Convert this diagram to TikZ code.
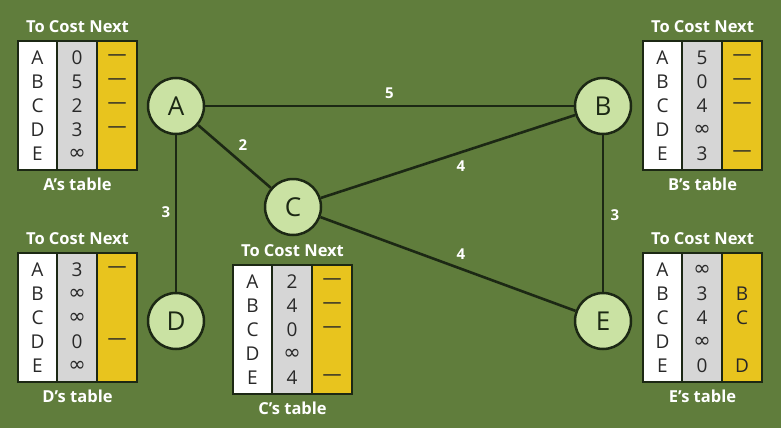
\documentclass[tikz,border=0pt]{standalone}
\usepackage{fontspec}
\setmainfont{Open Sans}
\newfontfamily\symfont{DejaVu Sans}
\newcommand\inft{{\symfont\fontsize{21}{21}\selectfont ∞}}
\definecolor{bg}{RGB}{96,125,60}
\definecolor{nodefill}{RGB}{202,226,163}
\definecolor{ink}{RGB}{28,40,20}
\definecolor{costgray}{RGB}{214,214,214}
\definecolor{nextyel}{RGB}{232,196,30}
\definecolor{celltext}{RGB}{40,40,40}
\tikzset{
  router/.style={circle, draw=ink, line width=2.5pt, fill=nodefill, minimum size=56pt, inner sep=0pt, text=ink, font=\fontsize{26}{26}\selectfont},
  link/.style={draw=ink, line width=2.6pt},
  elab/.style={text=white, font=\bfseries\fontsize{15}{15}\selectfont, inner sep=0pt},
  hdr/.style={text=white, font=\bfseries\fontsize{16.5}{16.5}\selectfont, inner sep=0pt},
  capt/.style={text=white, font=\bfseries\fontsize{16.5}{16.5}\selectfont, inner sep=0pt},
  tbl/.style={draw=ink, line width=1.6pt},
  cell/.style={text=celltext, font=\fontsize{19}{19}\selectfont, inner sep=0pt},
}
\newcommand\dvtable[4]{%
  \begin{scope}[shift={(#2,#3)}]
    \node[hdr] (#1hdr) at (59.5,-14) {To Cost Next};
    \draw[tbl, fill=white] (0,0) rectangle (39,129);
    \draw[tbl, fill=costgray] (39,0) rectangle (79,129);
    \draw[tbl, fill=nextyel] (79,0) rectangle (119,129);
    \foreach \l/\c/\n [count=\i from 0] in {#4} {
      \node[cell] (#1to\i) at (19.5,{17+24*\i}) {\l};
      \node[cell] (#1cost\i) at (59,{17+24*\i}) {\c};
      \node[cell] (#1next\i) at (99,{17+24*\i}) {\n};
    }
    \node[capt] (#1cap) at (59.5,143) {#1’s table};
  \end{scope}}
\begin{document}
\begin{tikzpicture}[x=1pt, y=-1pt]
  \fill[bg] (0,0) rectangle (781,428);
  \useasboundingbox (0,0) rectangle (781,428);

  \node[router] (A) at (176,106) {A};
  \node[router] (B) at (603,106) {B};
  \node[router] (C) at (293,207) {C};
  \node[router] (D) at (176,321) {D};
  \node[router] (E) at (603,321) {E};

  \draw[link] (A) -- (B) node[elab, midway, yshift=13pt] {5};
  \draw[link] (A) -- (C) node[elab, midway, xshift=8.5pt, yshift=11.5pt] {2};
  \draw[link] (A) -- (D) node[elab, midway, xshift=-10pt, yshift=1pt] {3};
  \draw[link] (C) -- (B) node[elab, midway, xshift=13pt, yshift=-9.5pt] {4};
  \draw[link] (C) -- (E) node[elab, midway, xshift=13pt, yshift=9.5pt] {4};
  \draw[link] (B) -- (E) node[elab, midway, xshift=12pt, yshift=-2pt] {3};

  \dvtable{A}{18}{41}{A/0/—, B/5/—, C/2/—, D/3/—, E/\inft/{}}
  \dvtable{B}{643}{41}{A/5/—, B/0/—, C/4/—, D/\inft/{}, E/3/—}
  \dvtable{D}{18}{253}{A/3/—, B/\inft/{}, C/\inft/{}, D/0/—, E/\inft/{}}
  \dvtable{C}{233}{265}{A/2/—, B/4/—, C/0/—, D/\inft/{}, E/4/—}
  \dvtable{E}{643}{253}{A/\inft/{}, B/3/B, C/4/C, D/\inft/{}, E/0/D}
\end{tikzpicture}
\end{document}
